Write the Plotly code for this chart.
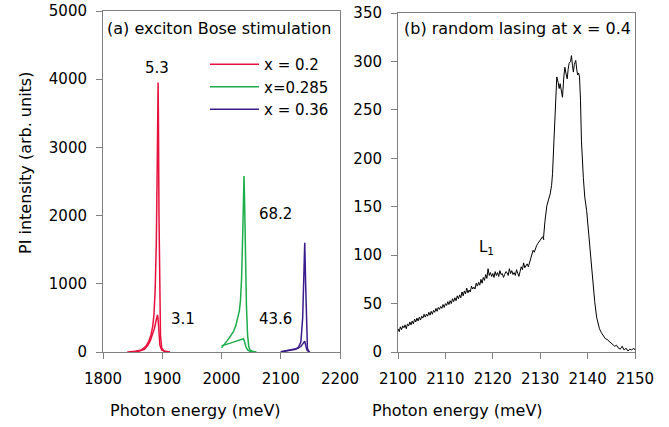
import plotly.graph_objects as go

# ---------- data ----------
# panel (a): two spectra per composition (high and low excitation)
red_hi_x = [1841, 1855, 1865, 1872, 1877, 1881, 1884, 1886, 1888, 1890, 1891.5, 1892.5, 1893, 1893.5, 1894.5, 1895.5, 1897, 1899, 1903, 1913]
red_hi_y = [0, 10, 30, 80, 150, 250, 380, 550, 900, 1600, 2700, 3600, 3950, 3500, 2000, 900, 250, 60, 15, 0]
red_lo_x = [1845, 1860, 1870, 1876, 1880, 1884, 1887, 1889, 1891, 1892, 1893, 1894, 1896, 1899, 1905, 1912]
red_lo_y = [0, 10, 40, 100, 170, 260, 350, 440, 520, 545, 480, 300, 100, 30, 5, 0]

grn_hi_x = [2000, 2005, 2010, 2015, 2020, 2024, 2027, 2030, 2032, 2034, 2036, 2037, 2038, 2039, 2040, 2042, 2044, 2046, 2048, 2052, 2059]
grn_hi_y = [60, 110, 170, 230, 300, 380, 480, 600, 750, 1100, 1800, 2300, 2580, 2200, 1500, 700, 250, 80, 30, 10, 0]
grn_lo_x = [2000, 2005, 2010, 2015, 2020, 2025, 2030, 2034, 2037, 2039, 2041, 2044, 2048, 2055]
grn_lo_y = [90, 100, 115, 130, 145, 160, 175, 190, 195, 150, 80, 30, 10, 0]

pur_hi_x = [2100, 2110, 2118, 2125, 2130, 2134, 2137, 2139, 2140.5, 2142, 2143.5, 2145, 2147, 2149]
pur_hi_y = [0, 15, 25, 40, 70, 150, 500, 1100, 1600, 1000, 300, 60, 15, 0]
pur_lo_x = [2100, 2110, 2120, 2128, 2134, 2138, 2140.5, 2142, 2144, 2147, 2149]
pur_lo_y = [5, 20, 35, 50, 80, 120, 160, 100, 30, 5, 0]

# panel (b): random lasing spectrum at x = 0.4
b_low_x = [2100 + 0.25 * i for i in range(124)]
b_low_y = [24, 21, 26, 23, 27, 25, 28, 24, 29, 27, 31, 28, 32, 29, 34, 31,
           35, 32, 36, 33, 37, 35, 39, 36, 39, 37, 41, 38, 42, 39, 43, 41,
           45, 42, 46, 44, 47, 45, 49, 46, 50, 48, 52, 49, 53, 50, 55, 52,
           56, 53, 58, 55, 59, 56, 62, 58, 63, 60, 66, 61, 64, 62, 68, 65,
           67, 65, 71, 68, 72, 69, 75, 71, 77, 74, 80, 76, 86, 79, 82, 78,
           81, 77, 83, 79, 82, 78, 84, 80, 81, 77, 80, 83, 82, 79, 86, 81,
           84, 80, 82, 79, 85, 81, 78, 83, 88, 85, 92, 87, 89, 91, 88, 93,
           97, 101, 105, 103, 108, 110, 112, 114, 115, 117, 119, 116]
b_peak_x = [2130.7, 2131.0, 2131.4, 2131.8, 2132.1, 2132.4, 2132.6, 2132.9, 2133.2, 2133.5,
            2133.8, 2134.0, 2134.2, 2134.5, 2134.7, 2135.0, 2135.2, 2135.5, 2135.7, 2135.9,
            2136.1, 2136.4, 2136.6, 2136.8, 2137.0, 2137.2, 2137.5, 2137.7, 2137.9, 2138.1,
            2138.3, 2138.5, 2138.7, 2139.1, 2139.4, 2139.8, 2140.1, 2140.5, 2140.8, 2141.2,
            2141.5, 2141.9, 2142.2, 2142.5, 2142.9, 2143.3, 2143.7, 2144.1, 2144.5, 2144.9,
            2145.3, 2145.7, 2146.1, 2146.5, 2146.9, 2147.3, 2147.7, 2148.1, 2148.5, 2148.9,
            2149.3, 2149.7, 2150.0]
b_peak_y = [118, 135, 151, 158, 163, 172, 184, 218, 260, 284,
            278, 272, 277, 268, 263, 285, 294, 286, 282, 292,
            298, 300, 306, 296, 289, 297, 301, 292, 286, 288,
            284, 260, 218, 180, 160, 146, 128, 105, 88, 67,
            52, 36, 28, 24, 20, 17, 14, 13, 11, 10,
            8, 6, 7, 4, 3, 6, 2, 4, 1, 3,
            2, 4, 2]
b_x = b_low_x + b_peak_x
b_y = b_low_y + b_peak_y

labels_a = ["x = 0.2", "x=0.285", "x = 0.36"]
colors = ["#e8103c", "#1cae4a", "#3a1c8c"]

FONT = "DejaVu Sans, sans-serif"

fig = go.Figure()
series = [(red_hi_x, red_hi_y, red_lo_x, red_lo_y),
          (grn_hi_x, grn_hi_y, grn_lo_x, grn_lo_y),
          (pur_hi_x, pur_hi_y, pur_lo_x, pur_lo_y)]
for (hx, hy, lx, ly), name, c in zip(series, labels_a, colors):
    fig.add_trace(go.Scatter(x=hx, y=hy, mode="lines", name=name,
                             line=dict(color=c, width=1.5), xaxis="x", yaxis="y"))
    fig.add_trace(go.Scatter(x=lx, y=ly, mode="lines", showlegend=False,
                             line=dict(color=c, width=1.5), xaxis="x", yaxis="y"))

fig.add_trace(go.Scatter(x=b_x, y=b_y, mode="lines", showlegend=False,
                         line=dict(color="black", width=1), xaxis="x2", yaxis="y2"))

W, H = 669, 427
axcommon = dict(showline=True, linecolor="#808080", linewidth=1, mirror=True,
                ticks="outside", ticklen=6, tickcolor="#808080", showgrid=False,
                zeroline=False, automargin=False,
                tickfont=dict(family=FONT, size=15, color="black"))
xcommon = dict(ticklabelstandoff=7, **axcommon)
ycommon = dict(ticklabelstandoff=6, **axcommon)

fig.update_layout(
    width=W, height=H,
    margin=dict(l=0, r=0, t=0, b=0, pad=0, autoexpand=False),
    paper_bgcolor="white", plot_bgcolor="white",
    xaxis=dict(domain=[103 / W, 340 / W], range=[1800, 2200], dtick=100, anchor="y", **xcommon),
    yaxis=dict(domain=[1 - 352 / H, 1 - 11 / H], range=[0, 5000], dtick=1000, anchor="x", **ycommon),
    xaxis2=dict(domain=[398 / W, 635 / W], range=[2100, 2150], dtick=10, anchor="y2", **xcommon),
    yaxis2=dict(domain=[1 - 352 / H, 1 - 13 / H], range=[0, 350], dtick=50, anchor="x2", **ycommon),
    legend=dict(x=205 / W, y=1 - 48 / H, xanchor="left", yanchor="top",
                bgcolor="rgba(0,0,0,0)", font=dict(family=FONT, size=15, color="black"),
                tracegroupgap=0, itemwidth=49),
    showlegend=True,
)

ann = [
    dict(text="(a) exciton Bose stimulation", x=1803, y=4750, xref="x", yref="y", xanchor="left", size=16),
    dict(text="(b) random lasing at x = 0.4", x=2100.8, y=334, xref="x2", yref="y2", xanchor="left", size=16),
    dict(text="5.3", x=1891.5, y=4160, xref="x", yref="y", size=15),
    dict(text="3.1", x=1935.6, y=485, xref="x", yref="y", size=15),
    dict(text="68.2", x=2091.5, y=2030, xref="x", yref="y", size=15),
    dict(text="43.6", x=2091.5, y=485, xref="x", yref="y", size=15),
    dict(text="L<sub>1</sub>", x=2118.6, y=108, xref="x2", yref="y2", size=15),
    dict(text="Photon energy (meV)", x=196 / W, y=1 - 410 / H, xref="paper", yref="paper", size=16),
    dict(text="Photon energy (meV)", x=457 / W, y=1 - 410 / H, xref="paper", yref="paper", size=16),
    dict(text="PI intensity (arb. units)", x=25 / W, y=1 - 163 / H, xref="paper", yref="paper", size=16, textangle=-90),
]
for a in ann:
    size = a.pop("size", 14)
    a.setdefault("xanchor", "center")
    fig.add_annotation(showarrow=False, yanchor="middle",
                       font=dict(family=FONT, size=size, color="black"), **a)

fig.write_html("out.html")
